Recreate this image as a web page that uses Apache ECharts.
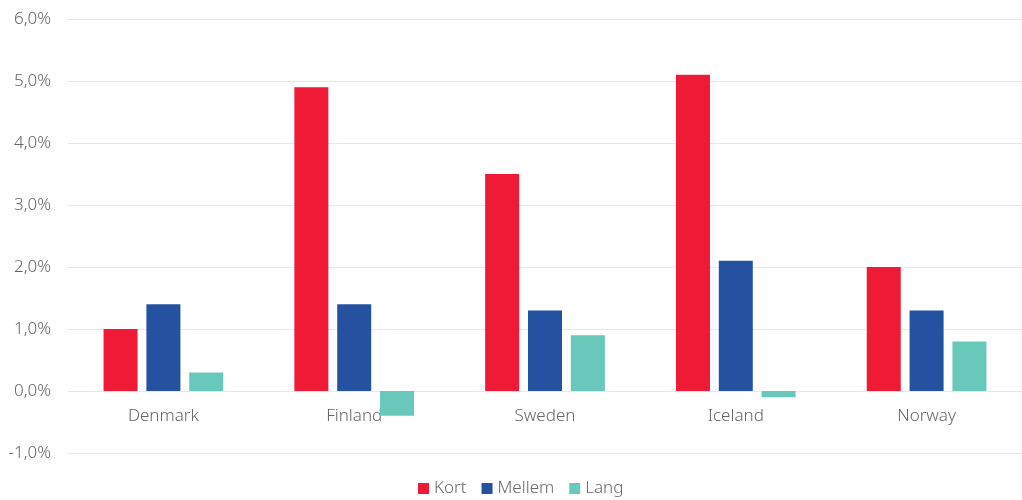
<!DOCTYPE html>
<html>
<head>
<meta charset="utf-8">
<script src="https://cdn.jsdelivr.net/npm/echarts@6/dist/echarts.min.js"></script>
<style>
html,body{margin:0;padding:0;background:#fff;}
#c{width:1022px;height:500px;}
</style>
</head>
<body>
<div id="c"></div>
<script>
const categories = ['Denmark', 'Finland', 'Sweden', 'Iceland', 'Norway'];
const kort = [1.0, 4.9, 3.5, 5.1, 2.0];
const mellem = [1.4, 1.4, 1.3, 2.1, 1.3];
const lang = [0.3, -0.4, 0.9, -0.1, 0.8];
const seriesNames = ['Kort', 'Mellem', 'Lang'];
const colors = ['#EF1A36', '#2452A0', '#68C8BA'];

const FONT = 'Noto Sans';
const chart = echarts.init(document.getElementById('c'));
const fmt = v => v.toFixed(1).replace('.', ',') + '%';
chart.setOption({
  animation: false,
  textStyle: { fontFamily: FONT },
  color: colors,
  grid: { left: 68, top: 19, width: 961, height: 434 },
  legend: {
    top: 480,
    left: 418,
    padding: 0,
    icon: 'rect',
    itemWidth: 11,
    itemHeight: 11,
    itemGap: 15,
    textStyle: { fontSize: 17, color: '#666', fontFamily: FONT, fontWeight: 300 },
    data: seriesNames
  },
  xAxis: {
    type: 'category',
    data: categories,
    offset: -62,
    axisLine: { show: false, onZero: false },
    axisTick: { show: false },
    axisLabel: { fontSize: 17, color: '#666', fontWeight: 300, margin: 17 },
    z: 0
  },
  yAxis: {
    type: 'value',
    min: -1,
    max: 6,
    interval: 1,
    axisLine: { show: false },
    axisTick: { show: false },
    axisLabel: { fontSize: 17, color: '#666', fontWeight: 300, margin: 17, formatter: fmt },
    splitLine: { lineStyle: { color: '#e8e8e8', width: 1 } }
  },
  series: [
    { name: seriesNames[0], type: 'bar', data: kort, barWidth: 34, barGap: '26%', z: 3 },
    { name: seriesNames[1], type: 'bar', data: mellem, barWidth: 34, barGap: '26%', z: 3 },
    { name: seriesNames[2], type: 'bar', data: lang, barWidth: 34, barGap: '26%', z: 3 }
  ]
});
</script>
</body>
</html>
